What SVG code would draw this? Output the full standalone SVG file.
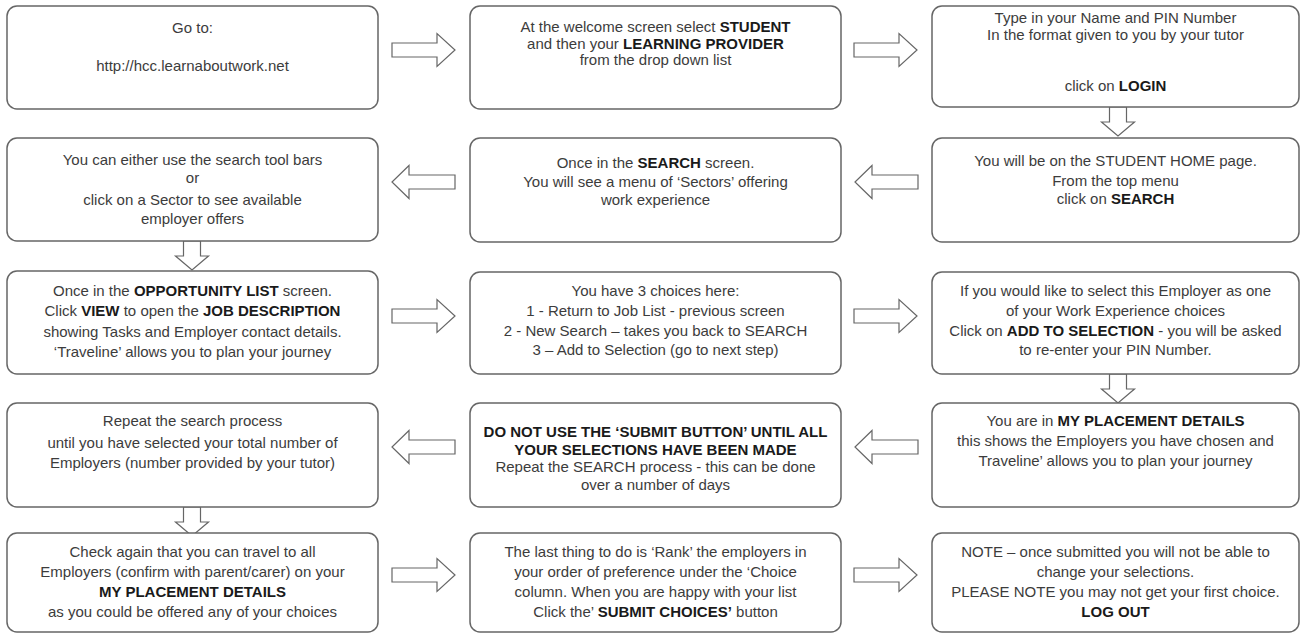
<svg xmlns="http://www.w3.org/2000/svg" xmlns:xlink="http://www.w3.org/1999/xlink" width="1301" height="637" viewBox="0 0 1301 637">
<style>
.box{fill:#fff;stroke:#666;stroke-width:1.5}
.arr{fill:#fff;stroke:#666;stroke-width:1.2;stroke-linejoin:miter}
text{font-family:"Liberation Sans",Arial,sans-serif;font-size:15px;fill:#3c3c3c;text-anchor:middle}
.b{font-weight:bold;fill:#1a1a1a}
</style>
<defs>
<path id="aR" d="M0,-7 H45 V-16.5 L63,0 L45,16.5 V7 H0 Z"/>
<path id="aL" d="M63,-7 H17 V-16.5 L0,0 L17,16.5 V7 H63 Z"/>
<path id="aD" d="M-8.5,0 V15 H-16.5 L0,29 L16.5,15 H8.5 V0 Z"/>
</defs>
<rect width="1301" height="637" fill="#fff"/>
<g id="connectors">
<use xlink:href="#aR" class="arr" x="392" y="50"/>
<use xlink:href="#aR" class="arr" x="854" y="50"/>
<use xlink:href="#aD" class="arr" x="1118" y="107"/>
<use xlink:href="#aL" class="arr" x="855" y="182"/>
<use xlink:href="#aL" class="arr" x="392" y="182"/>
<use xlink:href="#aD" class="arr" x="192" y="241"/>
<use xlink:href="#aR" class="arr" x="392" y="316"/>
<use xlink:href="#aR" class="arr" x="854" y="316"/>
<use xlink:href="#aD" class="arr" x="1118" y="374"/>
<use xlink:href="#aL" class="arr" x="855" y="447"/>
<use xlink:href="#aL" class="arr" x="392" y="447"/>
<use xlink:href="#aD" class="arr" x="192" y="507"/>
<use xlink:href="#aR" class="arr" x="392" y="575"/>
<use xlink:href="#aR" class="arr" x="854" y="575"/>
</g>
<g id="n1">
<rect class="box" x="7" y="6" width="371" height="103" rx="10"/>
<text x="192.5" y="33">Go to:</text>
<text x="192.5" y="71">http://hcc.learnaboutwork.net</text>
</g>
<g id="n2">
<rect class="box" x="470" y="6" width="371" height="103" rx="10"/>
<text x="655.5" y="32">At the welcome screen select <tspan class="b">STUDENT</tspan></text>
<text x="655.5" y="49">and then your <tspan class="b">LEARNING PROVIDER</tspan></text>
<text x="655.5" y="65">from the drop down list</text>
</g>
<g id="n3">
<rect class="box" x="932" y="6" width="367" height="101" rx="10"/>
<text x="1115.5" y="23">Type in your Name and PIN Number</text>
<text x="1115.5" y="40">In the format given to you by your tutor</text>
<text x="1115.5" y="91">click on <tspan class="b">LOGIN</tspan></text>
</g>
<g id="n4">
<rect class="box" x="7" y="138" width="371" height="103" rx="10"/>
<text x="192.5" y="165">You can either use the search tool bars</text>
<text x="192.5" y="183">or</text>
<text x="192.5" y="205">click on a Sector to see available</text>
<text x="192.5" y="224">employer offers</text>
</g>
<g id="n5">
<rect class="box" x="470" y="138" width="371" height="104" rx="10"/>
<text x="655.5" y="168">Once in the <tspan class="b">SEARCH</tspan> screen.</text>
<text x="655.5" y="187">You will see a menu of ‘Sectors’ offering</text>
<text x="655.5" y="205">work experience</text>
</g>
<g id="n6">
<rect class="box" x="932" y="138" width="367" height="104" rx="10"/>
<text x="1115.5" y="166">You will be on the STUDENT HOME page.</text>
<text x="1115.5" y="186">From the top menu</text>
<text x="1115.5" y="204">click on <tspan class="b">SEARCH</tspan></text>
</g>
<g id="n7">
<rect class="box" x="7" y="271" width="371" height="103" rx="10"/>
<text x="192.5" y="296">Once in the <tspan class="b">OPPORTUNITY LIST</tspan> screen.</text>
<text x="192.5" y="316">Click <tspan class="b">VIEW</tspan> to open the <tspan class="b">JOB DESCRIPTION</tspan></text>
<text x="192.5" y="337">showing Tasks and Employer contact details.</text>
<text x="192.5" y="357">‘Traveline’ allows you to plan your journey</text>
</g>
<g id="n8">
<rect class="box" x="470" y="272" width="371" height="102" rx="10"/>
<text x="655.5" y="296">You have 3 choices here:</text>
<text x="655.5" y="316">1 - Return to Job List - previous screen</text>
<text x="655.5" y="336">2 - New Search – takes you back to SEARCH</text>
<text x="655.5" y="355">3 – Add to Selection (go to next step)</text>
</g>
<g id="n9">
<rect class="box" x="932" y="272" width="367" height="102" rx="10"/>
<text x="1115.5" y="296">If you would like to select this Employer as one</text>
<text x="1115.5" y="316">of your Work Experience choices</text>
<text x="1115.5" y="336">Click on <tspan class="b">ADD TO SELECTION</tspan> - you will be asked</text>
<text x="1115.5" y="355">to re-enter your PIN Number.</text>
</g>
<g id="n10">
<rect class="box" x="7" y="403" width="371" height="104" rx="10"/>
<text x="192.5" y="426">Repeat the search process</text>
<text x="192.5" y="448">until you have selected your total number of</text>
<text x="192.5" y="468">Employers (number provided by your tutor)</text>
</g>
<g id="n11">
<rect class="box" x="470" y="403" width="371" height="104" rx="10"/>
<text x="655.5" y="437" class="b">DO NOT USE THE ‘SUBMIT BUTTON’ UNTIL ALL</text>
<text x="655.5" y="455" class="b">YOUR SELECTIONS HAVE BEEN MADE</text>
<text x="655.5" y="472">Repeat the SEARCH process - this can be done</text>
<text x="655.5" y="490">over a number of days</text>
</g>
<g id="n12">
<rect class="box" x="932" y="403" width="367" height="104" rx="10"/>
<text x="1115.5" y="426">You are in <tspan class="b">MY PLACEMENT DETAILS</tspan></text>
<text x="1115.5" y="446">this shows the Employers you have chosen and</text>
<text x="1115.5" y="466">Traveline’ allows you to plan your journey</text>
</g>
<g id="n13">
<rect class="box" x="7" y="533" width="371" height="99" rx="10"/>
<text x="192.5" y="557">Check again that you can travel to all</text>
<text x="192.5" y="577">Employers (confirm with parent/carer) on your</text>
<text x="192.5" y="597" class="b">MY PLACEMENT DETAILS</text>
<text x="192.5" y="617">as you could be offered any of your choices</text>
</g>
<g id="n14">
<rect class="box" x="470" y="533" width="371" height="99" rx="10"/>
<text x="655.5" y="557">The last thing to do is ‘Rank’ the employers in</text>
<text x="655.5" y="577">your order of preference under the ‘Choice</text>
<text x="655.5" y="597">column.  When you are happy with your list</text>
<text x="655.5" y="617">Click the’ <tspan class="b">SUBMIT CHOICES’</tspan> button</text>
</g>
<g id="n15">
<rect class="box" x="932" y="533" width="367" height="99" rx="10"/>
<text x="1115.5" y="557">NOTE – once submitted you will not be able to</text>
<text x="1115.5" y="577">change your selections.</text>
<text x="1115.5" y="597">PLEASE NOTE you may not get your first choice.</text>
<text x="1115.5" y="617" class="b">LOG OUT</text>
</g>
</svg>
